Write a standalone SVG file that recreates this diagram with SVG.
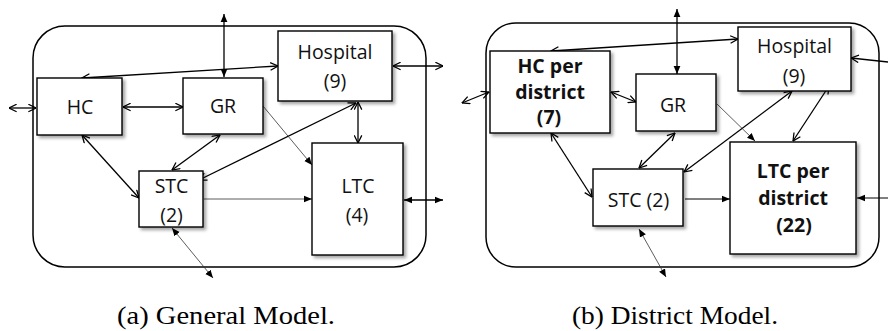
<svg xmlns="http://www.w3.org/2000/svg" width="888" height="331" viewBox="0 0 888 331">
<style>
.frame{fill:none;stroke:#000;stroke-width:1.5}
.box{fill:#fff;stroke:#000;stroke-width:1.4;filter:url(#sh)}
.t{font-family:"Open Sans","Noto Sans",sans-serif;font-size:19.5px;fill:#111;text-anchor:middle}
.b{font-weight:bold}
.c{stroke:#000;stroke-width:1.3;fill:none}
.thin{stroke:#333;stroke-width:0.8;fill:none}
.oo{marker-start:url(#op);marker-end:url(#op)}
.ff{marker-start:url(#fi);marker-end:url(#fi)}
.f{marker-end:url(#fi)}
.o{marker-end:url(#op)}
.cap{font-family:"Liberation Serif","DejaVu Serif",serif;font-size:25px;fill:#000}
</style>
<defs>
<filter id="sh" x="-10%" y="-10%" width="130%" height="130%">
<feDropShadow dx="2.5" dy="2.5" stdDeviation="1.8" flood-color="#000" flood-opacity="0.35"/>
</filter>
<marker id="op" viewBox="0 0 10 10" refX="9.5" refY="5" markerWidth="9" markerHeight="9" markerUnits="userSpaceOnUse" orient="auto-start-reverse">
<path d="M1,0.8 L9.5,5 L1,9.2" fill="none" stroke="#000" stroke-width="1.4"/>
</marker>
<marker id="fi" viewBox="0 0 10 10" refX="10" refY="5" markerWidth="8" markerHeight="8" markerUnits="userSpaceOnUse" orient="auto-start-reverse">
<path d="M0,0.8 L10,5 L0,9.2 Z" fill="#000"/>
</marker>
</defs>

<g id="frames">
<rect class="frame" x="33" y="26" width="393" height="241" rx="32" ry="32"/>
<rect class="frame" x="486" y="23" width="393" height="244" rx="30" ry="30"/>
</g>

<g id="connectors">
<!-- left panel -->
<line class="c ff" x1="224" y1="14" x2="224" y2="77"/>
<line class="c oo" x1="82" y1="78" x2="278" y2="66"/>
<line class="c oo" x1="9" y1="108" x2="36" y2="108"/>
<line class="c oo" x1="123" y1="107" x2="183" y2="107"/>
<line class="c oo" x1="393" y1="66" x2="443" y2="66"/>
<line class="c oo" x1="358" y1="102" x2="358" y2="143"/>
<line class="c oo" x1="220" y1="135" x2="172" y2="170"/>
<line class="c oo" x1="356" y1="103" x2="199" y2="180"/>
<line class="c oo" x1="82" y1="135" x2="139" y2="198"/>
<line class="thin f" x1="263" y1="106" x2="312" y2="165"/>
<line class="thin f" x1="204" y1="199" x2="312" y2="199"/>
<line class="c ff" x1="404" y1="200" x2="443" y2="200"/>
<line class="thin ff" x1="172" y1="228" x2="213" y2="278"/>
<!-- right panel -->
<line class="c ff" x1="677" y1="9" x2="677" y2="74"/>
<line class="c oo" x1="551" y1="51" x2="738" y2="39"/>
<line class="c oo" x1="462" y1="103" x2="489" y2="92"/>
<line class="c oo" x1="611" y1="92" x2="636" y2="102"/>
<line class="c o" x1="888" y1="62" x2="851" y2="58"/>
<line class="c oo" x1="829" y1="86" x2="793" y2="141"/>
<line class="c oo" x1="792" y1="91" x2="684" y2="172"/>
<line class="c oo" x1="675" y1="133" x2="639" y2="168"/>
<line class="c oo" x1="551" y1="133" x2="592" y2="197"/>
<line class="thin f" x1="717" y1="104" x2="755" y2="141"/>
<line class="c f" x1="685" y1="199" x2="730" y2="199" style="stroke-width:1"/>
<line class="c f" x1="888" y1="198" x2="857" y2="198" style="stroke-width:1"/>
<line class="thin ff" x1="639" y1="229" x2="666" y2="277"/>
</g>

<g id="a-hc"><rect class="box" x="37" y="78" width="85" height="57"/><text class="t" x="80" y="114">HC</text></g>
<g id="a-gr"><rect class="box" x="183" y="78" width="80" height="56"/><text class="t" x="223" y="113">GR</text></g>
<g id="a-hospital"><rect class="box" x="278" y="31" width="114" height="70"/><text class="t" x="335" y="59">Hospital</text><text class="t" x="335" y="88">(9)</text></g>
<g id="a-stc"><rect class="box" x="139" y="171" width="64" height="56"/><text class="t" x="171.5" y="193">STC</text><text class="t" x="171.5" y="222">(2)</text></g>
<g id="a-ltc"><rect class="box" x="312" y="143" width="91" height="112"/><text class="t" x="358" y="193">LTC</text><text class="t" x="357" y="222">(4)</text></g>

<g id="b-hc"><rect class="box" x="490" y="51" width="120" height="82"/><text class="t b" x="550" y="73">HC per</text><text class="t b" x="550" y="99">district</text><text class="t b" x="549" y="124">(7)</text></g>
<g id="b-gr"><rect class="box" x="636" y="74" width="80" height="57"/><text class="t" x="673" y="112">GR</text></g>
<g id="b-hospital"><rect class="box" x="738" y="27" width="113" height="64"/><text class="t" x="794.5" y="53">Hospital</text><text class="t" x="794" y="83">(9)</text></g>
<g id="b-stc"><rect class="box" x="593" y="169" width="90" height="57"/><text class="t" x="638.5" y="207">STC (2)</text></g>
<g id="b-ltc"><rect class="box" x="730" y="142" width="126" height="112"/><text class="t b" x="793" y="178">LTC per</text><text class="t b" x="793" y="205">district</text><text class="t b" x="794" y="232">(22)</text></g>

<g id="captions">
<text class="cap" x="117" y="324" textLength="218" lengthAdjust="spacingAndGlyphs">(a) General Model.</text>
<text class="cap" x="572" y="324" textLength="206" lengthAdjust="spacingAndGlyphs">(b) District Model.</text>
</g>
</svg>
